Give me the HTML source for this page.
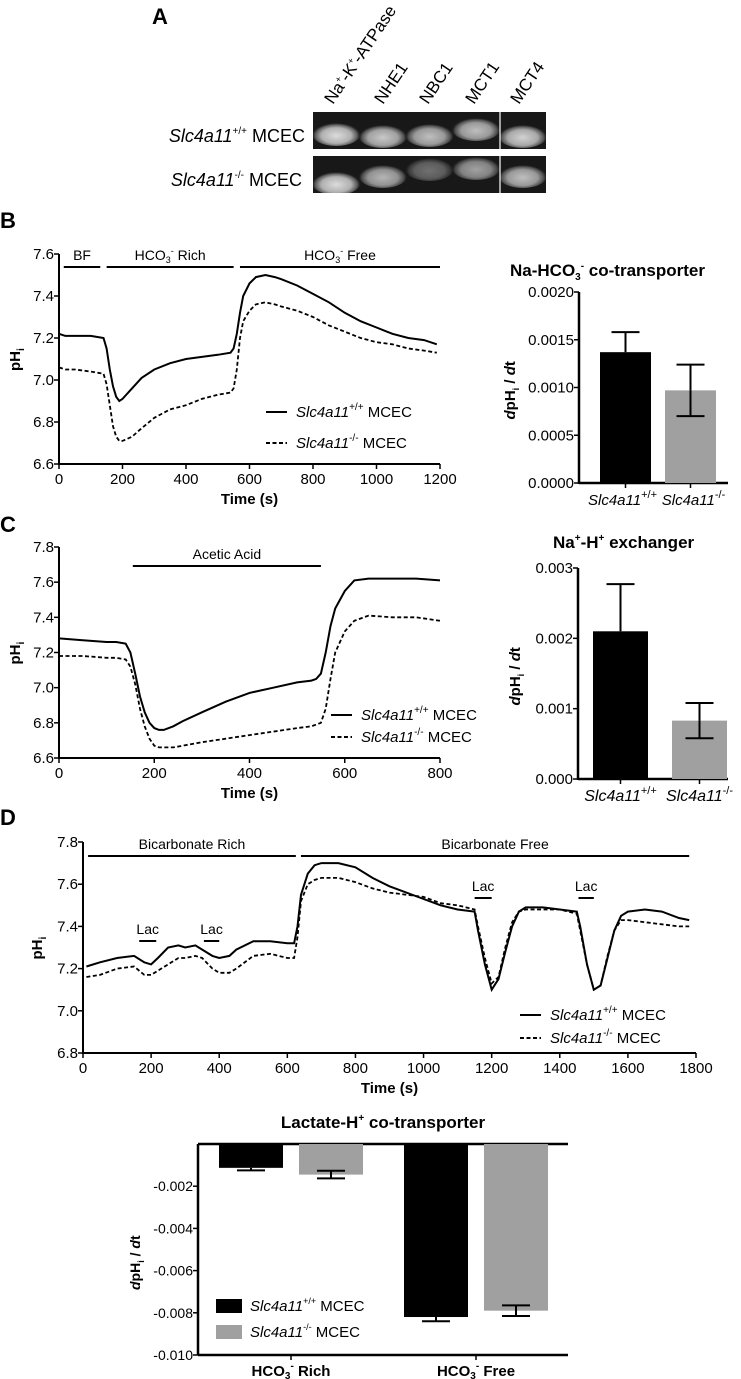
<!DOCTYPE html>
<html><head><meta charset="utf-8"><style>
body{margin:0;background:#fff}
svg{display:block;font-family:"Liberation Sans",Arial,sans-serif}
</style></head><body>
<svg id="fig" width="741" height="1379" viewBox="0 0 741 1379" xmlns="http://www.w3.org/2000/svg">
<defs>
<radialGradient id="band" cx="50%" cy="60%" r="50%"><stop offset="0" stop-color="#dcdcdc"/><stop offset="0.6" stop-color="#b0b0b0"/><stop offset="0.85" stop-color="#555"/><stop offset="1" stop-color="#1a1a1a" stop-opacity="0"/></radialGradient>
<clipPath id="clipwt"><rect x="313" y="112" width="233" height="37"/></clipPath>
<clipPath id="clipko"><rect x="313" y="156" width="233" height="37"/></clipPath>
</defs>
<g id="panelA">
<text x="152" y="24" font-size="22" font-weight="bold">A</text>
<g id="gel"></g>
<g font-size="17">
<text transform="translate(333,105) rotate(-56)">Na<tspan font-size="9" dy="-7">+</tspan><tspan dy="7">-K</tspan><tspan font-size="9" dy="-7">+</tspan><tspan dy="7">-ATPase</tspan></text>
<text transform="translate(383,105) rotate(-56)">NHE1</text>
<text transform="translate(428,105) rotate(-56)">NBC1</text>
<text transform="translate(474,105) rotate(-56)">MCT1</text>
<text transform="translate(519,105) rotate(-56)">MCT4</text>
</g>
<g font-size="18">
<text x="305" y="142" text-anchor="end"><tspan font-style="italic">Slc4a11</tspan><tspan font-size="10" dy="-8">+/+</tspan><tspan dy="8"> MCEC</tspan></text>
<text x="302" y="186" text-anchor="end"><tspan font-style="italic">Slc4a11</tspan><tspan font-size="10" dy="-8">-/-</tspan><tspan dy="8"> MCEC</tspan></text>
</g>
</g>
<g id="charts"></g>
</svg>
<script>
// ---- data ----
const gelLaneNames=["Na-K-ATPase","NHE1","NBC1","MCT1","MCT4"];
const gelBandWT=[1,0.9,0.85,0.85,0.95];
const gelBandKO=[1,0.8,0.45,0.7,0.85];
const gelBandYWT=[133,135,134,128,135];
const gelBandYKO=[182,175,168,167,175];

const bTime=[0,20,50,100,140,150,160,170,180,190,200,230,260,300,350,400,450,500,540,550,560,570,580,600,620,650,680,700,750,800,850,900,950,1000,1050,1100,1150,1190];
const bWT=[7.22,7.21,7.21,7.21,7.20,7.15,7.05,6.97,6.92,6.90,6.91,6.96,7.01,7.05,7.08,7.10,7.11,7.12,7.13,7.15,7.22,7.32,7.40,7.46,7.49,7.50,7.49,7.48,7.45,7.41,7.37,7.32,7.28,7.25,7.22,7.20,7.19,7.17];
const bKO=[7.06,7.05,7.05,7.04,7.03,6.98,6.88,6.78,6.73,6.71,6.71,6.73,6.77,6.82,6.86,6.88,6.91,6.93,6.94,6.96,7.05,7.20,7.28,7.33,7.36,7.37,7.36,7.35,7.33,7.30,7.26,7.23,7.20,7.18,7.17,7.15,7.14,7.13];
const bXTicks=[0,200,400,600,800,1000,1200];
const bYTicks=[6.6,6.8,7.0,7.2,7.4,7.6];

const cTime=[0,50,100,120,140,150,160,170,180,190,200,210,220,240,260,300,350,400,450,500,530,540,550,560,570,580,600,620,650,700,750,800];
const cWT=[7.28,7.27,7.26,7.26,7.25,7.20,7.08,6.95,6.86,6.80,6.77,6.76,6.76,6.78,6.81,6.86,6.92,6.97,7.00,7.03,7.04,7.05,7.08,7.20,7.35,7.45,7.55,7.61,7.62,7.62,7.62,7.61];
const cKO=[7.18,7.18,7.17,7.17,7.16,7.12,7.02,6.88,6.78,6.71,6.67,6.66,6.66,6.66,6.67,6.69,6.71,6.73,6.75,6.77,6.78,6.79,6.80,6.88,7.05,7.20,7.32,7.38,7.41,7.40,7.40,7.38];
const cXTicks=[0,200,400,600,800];
const cYTicks=[6.6,6.8,7.0,7.2,7.4,7.6,7.8];

const dTime=[10,50,100,150,180,200,220,250,280,300,330,350,380,400,430,450,500,550,600,620,630,640,660,680,700,750,800,850,900,1000,1050,1100,1150,1160,1180,1200,1220,1240,1260,1280,1300,1350,1400,1450,1460,1480,1500,1520,1540,1560,1580,1600,1650,1700,1750,1780];
const dWT=[7.21,7.23,7.25,7.26,7.23,7.22,7.25,7.30,7.31,7.30,7.31,7.29,7.26,7.25,7.26,7.29,7.33,7.33,7.32,7.32,7.40,7.55,7.65,7.69,7.70,7.70,7.68,7.63,7.59,7.53,7.50,7.48,7.47,7.38,7.22,7.10,7.15,7.28,7.40,7.47,7.49,7.49,7.48,7.47,7.40,7.22,7.10,7.12,7.25,7.38,7.45,7.47,7.48,7.47,7.44,7.43];
const dKO=[7.16,7.17,7.20,7.21,7.17,7.17,7.19,7.22,7.25,7.25,7.26,7.25,7.20,7.18,7.18,7.20,7.26,7.27,7.25,7.25,7.35,7.52,7.60,7.62,7.63,7.63,7.61,7.58,7.56,7.54,7.51,7.50,7.48,7.40,7.25,7.13,7.16,7.30,7.42,7.47,7.48,7.48,7.48,7.46,7.38,7.22,7.10,7.12,7.26,7.38,7.43,7.43,7.42,7.41,7.40,7.40];
const dXTicks=[0,200,400,600,800,1000,1200,1400,1600,1800];
const dYTicks=[6.8,7.0,7.2,7.4,7.6,7.8];

const nbcGroups=["Slc4a11+/+","Slc4a11-/-"];
const nbcMeans=[0.00137,0.00097];
const nbcErrs=[0.00021,0.00027];
const nbcYTicks=[0,0.0005,0.0010,0.0015,0.0020];
const nbcYLabels=["0.0000","0.0005","0.0010","0.0015","0.0020"];

const nheMeans=[0.0021,0.00083];
const nheErrs=[0.00067,0.00025];
const nheYTicks=[0,0.001,0.002,0.003];
const nheYLabels=["0.000","0.001","0.002","0.003"];

const lacCats=["Rich","Free"];
const lacWT=[-0.00113,-0.0082];
const lacKO=[-0.00145,-0.0079];
const lacWTErr=[0.00012,0.0002];
const lacKOErr=[0.00018,0.00025];
const lacYTicks=[-0.002,-0.004,-0.006,-0.008,-0.010];
const lacYLabels=["-0.002","-0.004","-0.006","-0.008","-0.010"];

// ---- rendering ----
const NS="http://www.w3.org/2000/svg";
const root=document.getElementById('charts');
function el(tag,attrs,parent,text){const e=document.createElementNS(NS,tag);for(const k in attrs)e.setAttribute(k,attrs[k]);if(text!==undefined)e.textContent=text;(parent||root).appendChild(e);return e;}
function lin(d0,d1,r0,r1){return v=>r0+(v-d0)/(d1-d0)*(r1-r0);}

// gel
const gel=document.getElementById('gel');
[[112,149,gelBandWT,gelBandYWT,'wt'],[156,193,gelBandKO,gelBandYKO,'ko']].forEach(r=>{
  const rg=el('g',{'clip-path':'url(#clip'+r[4]+')'},gel);
  const bg=el('rect',{x:313,y:r[0],width:233,height:r[1]-r[0],fill:'#181818'},rg);
  
  
  gelLaneNames.forEach((n,i)=>{
    const cx=313+46.6*i+23.3;
    const b=el('ellipse',{cx:cx,cy:r[3][i],rx:25,ry:13,fill:'url(#band)',opacity:r[2][i]},rg);
    
    
  });
});
el('line',{x1:500,y1:112,x2:500,y2:193,stroke:'#fff','stroke-width':1.2},gel);

function lineChart(o){
  const g=el('g',{});
  
  
  const sx=lin(o.xd[0],o.xd[1],o.x0,o.x1), sy=lin(o.yd[0],o.yd[1],o.y0,o.y1);
  el('line',{x1:o.x0,y1:o.y0+1,x2:o.x0,y2:o.y1,stroke:'#000','stroke-width':2},g);
  el('line',{x1:o.x0-1,y1:o.y0,x2:o.x1,y2:o.y0,stroke:'#000','stroke-width':2},g);
  o.xt.forEach(t=>{el('line',{x1:sx(t),y1:o.y0,x2:sx(t),y2:o.y0+5,stroke:'#000','stroke-width':1.5},g);
    const tl=el('text',{x:sx(t),y:o.y0+20,'font-size':15,'text-anchor':'middle'},g,String(t));
    
    });
  o.yt.forEach(t=>{el('line',{x1:o.x0-5,y1:sy(t),x2:o.x0,y2:sy(t),stroke:'#000','stroke-width':1.5},g);
    const tl=el('text',{x:o.x0-5,y:sy(t)+5,'font-size':15,'text-anchor':'end'},g,t.toFixed(1));
    
    });
  const xt=el('text',{x:(o.x0+o.x1)/2,y:o.y0+40,'font-size':15,'font-weight':'bold','text-anchor':'middle'},g,'Time (s)');
  
  
  const yt=el('text',{transform:`translate(${o.ylx},${(o.y0+o.y1)/2+12}) rotate(-90)`,'font-size':15,'font-weight':'bold'},g);
  
  
  el('tspan',{},yt,'pH');el('tspan',{'font-size':10,dy:4},yt,'i');
  [[o.ko,'4 2.5','ko'],[o.wt,null,'wt']].forEach(s=>{
    const p=el('path',{d:o.t.map((t,i)=>(i?'L':'M')+sx(t).toFixed(1)+' '+sy(s[0][i]).toFixed(1)).join(''),fill:'none',stroke:'#000','stroke-width':s[1]?1.8:2},g);
    if(s[1])p.setAttribute('stroke-dasharray',s[1]);
    
    
  });
  o.bars.forEach(b=>{
    el('line',{x1:sx(b[0]),y1:b[2],x2:sx(b[1]),y2:b[2],stroke:'#000','stroke-width':2},g);
    const bt=el('text',{x:(sx(b[0])+sx(b[1]))/2,y:b[2]-7,'font-size':14,'text-anchor':'middle'},g);
    
    
    bt.innerHTML=b[3];
  });
  [[o.leg[1],null,'+/+'],[o.leg[1]+o.leg[2],'4 2.5','-/-']].forEach(l=>{
    const ln=el('line',{x1:o.leg[0],y1:l[0],x2:o.leg[0]+21,y2:l[0],stroke:'#000','stroke-width':2},g);
    if(l[1])ln.setAttribute('stroke-dasharray',l[1]);
    const t=el('text',{x:o.leg[0]+30,y:l[0]+5,'font-size':15},g);
    
    
    t.innerHTML=`<tspan font-style="italic">Slc4a11</tspan><tspan font-size="10" dy="-7">${l[2]}</tspan><tspan dy="7"> MCEC</tspan>`;
  });
}
el('text',{x:0,y:228,'font-size':22,'font-weight':'bold'},null,'B');
el('text',{x:0,y:532,'font-size':22,'font-weight':'bold'},null,'C');
el('text',{x:0,y:825,'font-size':22,'font-weight':'bold'},null,'D');

lineChart({name:'panel-b-trace',x0:59,x1:440,y0:464,y1:254,xd:[0,1200],yd:[6.6,7.6],xt:bXTicks,yt:bYTicks,t:bTime,wt:bWT,ko:bKO,ylx:20,
  bars:[[15,130,267,'BF'],[150,550,267,'HCO<tspan font-size="9" dy="3">3</tspan><tspan font-size="9" dy="-9">-</tspan><tspan dy="6"> Rich</tspan>'],[570,1200,267,'HCO<tspan font-size="9" dy="3">3</tspan><tspan font-size="9" dy="-9">-</tspan><tspan dy="6"> Free</tspan>']],
  leg:[266,412,31]});
lineChart({name:'panel-c-trace',x0:59,x1:440,y0:758,y1:547,xd:[0,800],yd:[6.6,7.8],xt:cXTicks,yt:cYTicks,t:cTime,wt:cWT,ko:cKO,ylx:20,
  bars:[[155,550,566,'Acetic Acid']],leg:[331,715,22]});
lineChart({name:'panel-d-trace',x0:83,x1:696,y0:1053,y1:842,xd:[0,1800],yd:[6.8,7.8],xt:dXTicks,yt:dYTicks,t:dTime,wt:dWT,ko:dKO,ylx:42,
  bars:[[15,625,856,'Bicarbonate Rich'],[640,1780,856,'Bicarbonate Free'],[165,215,941,'Lac'],[355,400,941,'Lac'],[1150,1200,898,'Lac'],[1455,1500,898,'Lac']],
  leg:[520,1015,23]});

function barChart(o){
  const g=el('g',{});
  
  
  const sy=lin(o.yd[0],o.yd[1],o.y0,o.y1);
  el('line',{x1:o.x0,y1:o.y0+1,x2:o.x0,y2:o.y1,stroke:'#000','stroke-width':2.5},g);
  el('line',{x1:o.x0,y1:o.y0,x2:o.x1,y2:o.y0,stroke:'#000','stroke-width':2.5},g);
  o.yt.forEach((t,i)=>{el('line',{x1:o.x0-5,y1:sy(t),x2:o.x0,y2:sy(t),stroke:'#000','stroke-width':1.5},g);
    const tl=el('text',{x:o.x0-5,y:sy(t)+5,'font-size':15,'text-anchor':'end'},g,o.yl[i]);
    
    });
  o.means.forEach((m,i)=>{
    const bx=o.bx[i];
    const r=el('rect',{x:bx,y:sy(m),width:o.bw,height:o.y0-sy(m),fill:i?'#a0a0a0':'#000'},g);
    
    
    const cx=bx+o.bw/2;
    el('line',{x1:cx,y1:sy(m),x2:cx,y2:sy(m+o.errs[i]),stroke:'#000','stroke-width':2},g);
    el('line',{x1:cx-14,y1:sy(m+o.errs[i]),x2:cx+14,y2:sy(m+o.errs[i]),stroke:'#000','stroke-width':2},g);
    if(i){el('line',{x1:cx,y1:sy(m),x2:cx,y2:sy(m-o.errs[i]),stroke:'#000','stroke-width':2},g);
      el('line',{x1:cx-14,y1:sy(m-o.errs[i]),x2:cx+14,y2:sy(m-o.errs[i]),stroke:'#000','stroke-width':2},g);}
    el('line',{x1:cx,y1:o.y0,x2:cx,y2:o.y0+5,stroke:'#000','stroke-width':1.5},g);
    const xl=el('text',{x:cx+(o.xoff?o.xoff[i]:0),y:o.y0+22,'font-size':o.xfs||16,'text-anchor':'middle','font-style':'italic'},g);
    
    
    xl.innerHTML=`Slc4a11<tspan font-style="normal" font-size="11" dy="-7">${i?'-/-':'+/+'}</tspan>`;
  });
  const t=el('text',{x:o.tx,y:o.ty,'font-size':17,'font-weight':'bold'},g);
  
  
  t.innerHTML=o.title;
  const yt=el('text',{transform:`translate(${o.ylx},${(o.y0+o.y1)/2+32}) rotate(-90)`,'font-size':15,'font-weight':'bold'},g);
  
  
  yt.innerHTML='<tspan font-style="italic">d</tspan>pH<tspan font-size="9" dy="4">i</tspan><tspan dy="-4"> / </tspan><tspan font-style="italic">d</tspan>t';
}
barChart({name:'nbc-bar-chart',x0:579,x1:728,y0:483,y1:292,yd:[0,0.002],yt:nbcYTicks,yl:nbcYLabels,means:nbcMeans,errs:nbcErrs,bx:[600,665],bw:51,
  tx:510,ty:276,ylx:515,xfs:15,xoff:[-3,3],title:'Na-HCO<tspan font-size="10" dy="4">3</tspan><tspan font-size="10" dy="-11">-</tspan><tspan dy="7"> co-transporter</tspan>'});
barChart({name:'nhe-bar-chart',x0:578,x1:728,y0:779,y1:568,yd:[0,0.003],yt:nheYTicks,yl:nheYLabels,means:nheMeans,errs:nheErrs,bx:[593,672],bw:55,
  tx:553,ty:548,ylx:520,title:'Na<tspan font-size="10" dy="-7">+</tspan><tspan dy="7">-H</tspan><tspan font-size="10" dy="-7">+</tspan><tspan dy="7"> exchanger</tspan>'});

// lactate chart
(function(){
  const g=el('g',{});
  
  
  const x0=198,x1=568,y0=1144,y1=1355;
  const sy=lin(0,-0.010,y0,y1);
  el('line',{x1:x0,y1:y0,x2:x0,y2:y1,stroke:'#000','stroke-width':2.5},g);
  el('line',{x1:x0,y1:y0,x2:x1,y2:y0,stroke:'#000','stroke-width':2.5},g);
  el('line',{x1:x0,y1:y1,x2:x1,y2:y1,stroke:'#000','stroke-width':2.5},g);
  lacYTicks.forEach((t,i)=>{el('line',{x1:x0-5,y1:sy(t),x2:x0,y2:sy(t),stroke:'#000','stroke-width':1.5},g);
    const tl=el('text',{x:x0-5,y:sy(t)+5,'font-size':14,'text-anchor':'end'},g,lacYLabels[i]);
    
    });
  const centers=[291,476];
  lacCats.forEach((c,i)=>{
    [[lacWT,lacWTErr,'#000',-72,'wt'],[lacKO,lacKOErr,'#a0a0a0',8,'ko']].forEach(s=>{
      const bx=centers[i]+s[3], m=s[0][i], e=s[1][i];
      const r=el('rect',{x:bx,y:y0,width:64,height:sy(m)-y0,fill:s[2]},g);
      
      
      const cx=bx+32;
      el('line',{x1:cx,y1:sy(m-e),x2:cx,y2:sy(m+(s[4]==='ko'?e:0)),stroke:'#000','stroke-width':2},g);
      el('line',{x1:cx-14,y1:sy(m-e),x2:cx+14,y2:sy(m-e),stroke:'#000','stroke-width':2},g);
      if(s[4]==='ko')el('line',{x1:cx-14,y1:sy(m+e),x2:cx+14,y2:sy(m+e),stroke:'#000','stroke-width':2},g);
    });
    el('line',{x1:centers[i],y1:y1,x2:centers[i],y2:y1+5,stroke:'#000','stroke-width':1.5},g);
    const xl=el('text',{x:centers[i],y:1376,'font-size':15,'font-weight':'bold','text-anchor':'middle'},g);
    
    
    xl.innerHTML=`HCO<tspan font-size="10" dy="3">3</tspan><tspan font-size="10" dy="-10">-</tspan><tspan dy="7"> ${c}</tspan>`;
  });
  const t=el('text',{x:383,y:1128,'font-size':17,'font-weight':'bold','text-anchor':'middle'},g);
  
  
  t.innerHTML='Lactate-H<tspan font-size="10" dy="-7">+</tspan><tspan dy="7"> co-transporter</tspan>';
  const yt=el('text',{transform:'translate(140,1290) rotate(-90)','font-size':14,'font-weight':'bold'},g);
  
  
  yt.innerHTML='<tspan font-style="italic">d</tspan>pH<tspan font-size="9" dy="4">i</tspan><tspan dy="-4"> / </tspan><tspan font-style="italic">d</tspan>t';
  [[1299,'#000','+/+'],[1325,'#a0a0a0','-/-']].forEach(l=>{
    el('rect',{x:216,y:l[0],width:26,height:14,fill:l[1]},g);
    const lt=el('text',{x:250,y:l[0]+12,'font-size':15},g);
    
    
    lt.innerHTML=`<tspan font-style="italic">Slc4a11</tspan><tspan font-size="9" dy="-7">${l[2]}</tspan><tspan dy="7"> MCEC</tspan>`;
  });
})();
</script>
</body></html>
